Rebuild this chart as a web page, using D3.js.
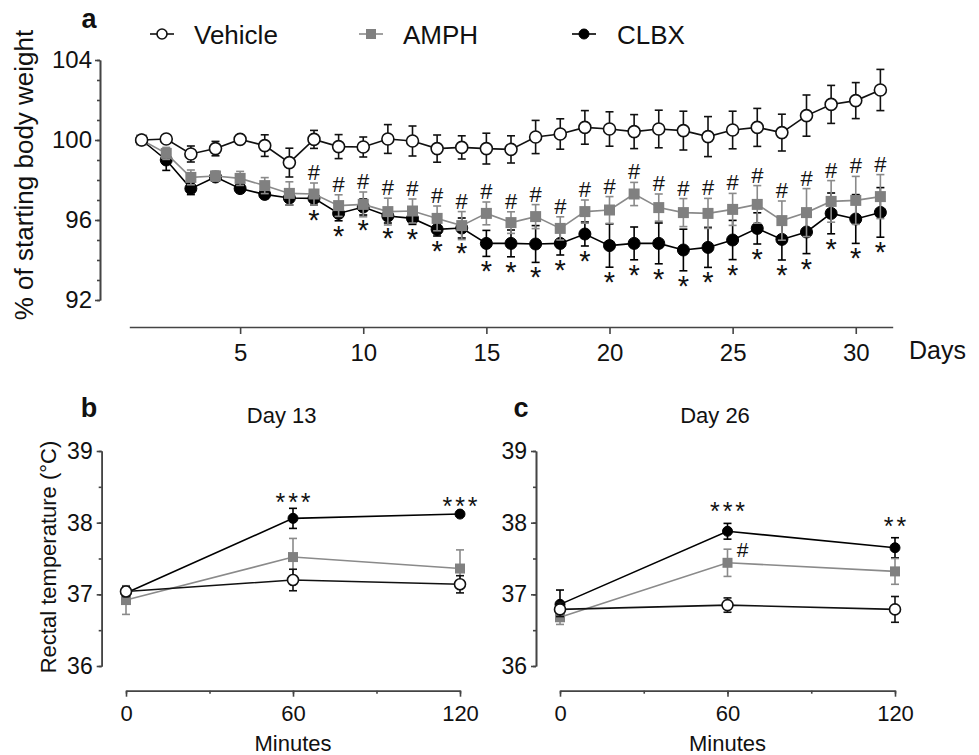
<!DOCTYPE html>
<html><head><meta charset="utf-8">
<script src="https://cdn.jsdelivr.net/npm/d3@7"></script>
<style>
body{margin:0;background:#fff;}
text{font-family:"Liberation Sans",Arial,Helvetica,sans-serif;fill:#111;}
</style></head>
<body><svg id="c" width="979" height="755"></svg>
<script>
// ---------- DATA ----------
const days = [1,2,3,4,5,6,7,8,9,10,11,12,13,14,15,16,17,18,19,20,21,22,23,24,25,26,27,28,29,30,31];
const vehWeight = [100.0,100.05,99.3,99.57,100.03,99.72,98.87,100.03,99.67,99.65,100.05,99.95,99.57,99.63,99.57,99.53,100.15,100.3,100.63,100.55,100.42,100.55,100.47,100.17,100.5,100.63,100.37,101.22,101.78,101.97,102.5];
const vehWeightErr = [0,0.15,0.4,0.36,0.2,0.54,0.72,0.45,0.6,0.5,0.72,0.75,0.68,0.58,0.77,0.68,0.83,0.76,0.84,0.86,0.85,0.94,0.97,1.0,0.94,0.95,0.92,1.03,0.95,0.9,1.03];
const amphWeight = [100.0,99.33,98.13,98.2,98.08,97.72,97.33,97.3,96.72,96.78,96.42,96.45,96.08,95.72,96.33,95.87,96.17,95.58,96.42,96.5,97.3,96.62,96.37,96.33,96.53,96.78,95.97,96.37,96.93,96.98,97.17];
const amphWeightErr = [0,0.3,0.37,0.25,0.35,0.4,0.58,0.55,0.54,0.62,0.67,0.6,0.62,0.7,0.57,0.54,0.6,0.58,0.58,0.67,0.58,0.68,0.7,0.75,0.8,0.94,0.98,1.2,1.04,1.2,1.1];
const clbxWeight = [100.0,99.0,97.57,98.15,97.57,97.28,97.1,97.08,96.33,96.65,96.2,96.08,95.53,95.6,94.83,94.83,94.8,94.83,95.3,94.72,94.83,94.83,94.5,94.63,95.0,95.58,95.03,95.4,96.33,96.05,96.38];
const clbxWeightErr = [0,0.52,0.3,0.2,0.2,0.2,0.35,0.33,0.37,0.4,0.35,0.3,0.33,0.5,0.65,0.67,0.92,0.58,0.6,1.08,0.82,1.02,1.04,1.0,0.98,0.78,1.03,1.08,1.02,1.22,1.24];
const hashDays = [8,9,10,11,12,13,14,15,16,17,18,19,20,21,22,23,24,25,26,27,28,29,30,31];
const starDays = [8,9,10,11,12,13,14,15,16,17,18,19,20,21,22,23,24,25,26,27,28,29,30,31];
const dayTicks = [5,10,15,20,25,30];
const weightTicks = [92,96,100,104];
const weightMinor = [92,93,94,95,96,97,98,99,100,101,102,103,104];

const minutes = [0,60,120];
const minuteTicks = [0,60,120];
const minuteMinor = [0,30,60,90,120];
const tempTicks = [36,37,38,39];
const tempMinor = [36,36.5,37,37.5,38,38.5,39];
// Day 13
const vehTempB = [37.04,37.2,37.14], vehTempBErr = [0.07,0.15,0.12];
const amphTempB = [36.92,37.52,37.36], amphTempBErr = [0.2,0.26,0.26];
const clbxTempB = [37.02,38.06,38.12], clbxTempBErr = [0.08,0.14,0.03];
const starsB = ["", "***", "***"];
// Day 26
const vehTempC = [36.79,36.85,36.79], vehTempCErr = [0.1,0.1,0.18];
const amphTempC = [36.68,37.44,37.32], amphTempCErr = [0.1,0.19,0.18];
const clbxTempC = [36.86,37.88,37.65], clbxTempCErr = [0.2,0.11,0.14];
const starsC = ["", "***", "**"];
const hashC = ["", "#", ""];

const seriesNames = ["Vehicle","AMPH","CLBX"];

// ---------- STYLE ----------
const GRAY = "#808080", GRAYLINE = "#8a8a8a", AX = "#444";
const FONT = "'Liberation Sans',Arial,Helvetica,sans-serif";
const svg = d3.select("#c");

function styleAxis(g, fs){
  g.selectAll(".domain").attr("stroke",AX).attr("stroke-width",1.6);
  g.selectAll(".tick line").attr("stroke",AX).attr("stroke-width",1.6);
  g.selectAll("text").style("font-family",FONT).style("font-size",fs+"px").attr("fill","#111");
}

function marker(g, type, cx, cy, r, color){
  if(type==="circle-open"){
    g.append("circle").attr("cx",cx).attr("cy",cy).attr("r",r).attr("fill","#fff").attr("stroke","#111").attr("stroke-width",1.6);
  } else if(type==="circle"){
    g.append("circle").attr("cx",cx).attr("cy",cy).attr("r",r).attr("fill","#000").attr("stroke","#000").attr("stroke-width",1);
  } else {
    g.append("rect").attr("x",cx-r).attr("y",cy-r).attr("width",2*r).attr("height",2*r).attr("fill",GRAY);
  }
}

function drawSeries(g, x, y, xs, m, e, type, color, r, cap){
  const s = g.append("g");
  xs.forEach((xv,i)=>{
    if(e[i]>0){
      const px=x(xv), y1=y(m[i]+e[i]), y2=y(m[i]-e[i]);
      s.append("line").attr("x1",px).attr("x2",px).attr("y1",y1).attr("y2",y2).attr("stroke",color).attr("stroke-width",1.6);
      s.append("line").attr("x1",px-cap).attr("x2",px+cap).attr("y1",y1).attr("y2",y1).attr("stroke",color).attr("stroke-width",1.6);
      s.append("line").attr("x1",px-cap).attr("x2",px+cap).attr("y1",y2).attr("y2",y2).attr("stroke",color).attr("stroke-width",1.6);
    }
  });
  const line = d3.line().x((d,i)=>x(xs[i])).y(d=>y(d));
  s.append("path").attr("d",line(m)).attr("fill","none").attr("stroke",color).attr("stroke-width",1.6);
  xs.forEach((xv,i)=>marker(s,type,x(xv),y(m[i]),r,color));
}

// ---------- PANEL A ----------
const xA = d3.scaleLinear().domain([0.5,31.5]).range([129.3,892.7]);
const yA = d3.scaleLinear().domain([92,104]).range([300,60]);

const gxA = svg.append("g").attr("transform","translate(0,327)")
  .call(d3.axisBottom(xA).tickValues(dayTicks).tickSize(7).tickPadding(10).tickSizeOuter(0));
styleAxis(gxA,24);
const gyAm = svg.append("g").attr("transform","translate(100,0)")
  .call(d3.axisLeft(yA).tickValues(weightMinor).tickSize(3).tickFormat("").tickSizeOuter(0));
styleAxis(gyAm,24);
const gyA = svg.append("g").attr("transform","translate(100,0)")
  .call(d3.axisLeft(yA).tickValues(weightTicks).tickSize(5).tickPadding(3).tickSizeOuter(0));
styleAxis(gyA,24);

svg.append("text").attr("transform","translate(33,175) rotate(-90)").attr("text-anchor","middle")
  .style("font-size","26px").text("% of starting body weight");
svg.append("text").attr("x",909).attr("y",359).style("font-size","25px").text("Days");
svg.append("text").attr("x",89).attr("y",28).attr("text-anchor","middle").style("font-size","27px").style("font-weight","bold").text("a");

const pA = svg.append("g");
drawSeries(pA,xA,yA,days,clbxWeight,clbxWeightErr,"circle","#000",6,4);
drawSeries(pA,xA,yA,days,amphWeight,amphWeightErr,"square",GRAYLINE,5.5,4);
drawSeries(pA,xA,yA,days,vehWeight,vehWeightErr,"circle-open","#111",6,4);

hashDays.forEach(d=>{
  const i = days.indexOf(d);
  svg.append("text").attr("x",xA(d)).attr("y",yA(amphWeight[i]+amphWeightErr[i])-3)
    .attr("text-anchor","middle").style("font-size","22px").text("#");
});
starDays.forEach(d=>{
  const i = days.indexOf(d);
  svg.append("text").attr("x",xA(d)).attr("y",yA(clbxWeight[i]-clbxWeightErr[i])+25)
    .attr("text-anchor","middle").style("font-size","29px").text("*");
});

// legend
const legend = [
  {name:seriesNames[0], type:"circle-open", x:150, tx:194, color:"#111"},
  {name:seriesNames[1], type:"square", x:359, tx:403, color:GRAYLINE},
  {name:seriesNames[2], type:"circle", x:572, tx:617, color:"#000"}
];
legend.forEach(l=>{
  const g = svg.append("g");
  g.append("line").attr("x1",l.x).attr("x2",l.x+24).attr("y1",34).attr("y2",34).attr("stroke",l.color).attr("stroke-width",1.6);
  marker(g,l.type,l.x+12,34,5,l.color);
  svg.append("text").attr("x",l.tx).attr("y",44).style("font-size","26px").text(l.name);
});

// ---------- PANELS B & C ----------
const yT = d3.scaleLinear().domain([36,39]).range([666,451]);
function tempPanel(axisX, x0, x1, letter, letterX, title, titleX, veh, vehE, amph, amphE, clbx, clbxE, stars, starOff, hashes){
  const x = d3.scaleLinear().domain([0,120]).range([x0,x1]);
  const gx1 = svg.append("g").attr("transform","translate(0,690.7)")
    .call(d3.axisBottom(x).tickValues(minuteMinor).tickSize(3).tickFormat("").tickSizeOuter(0));
  styleAxis(gx1,22);
  const gx = svg.append("g").attr("transform","translate(0,690.7)")
    .call(d3.axisBottom(x).tickValues(minuteTicks).tickSize(6).tickPadding(9).tickSizeOuter(0));
  styleAxis(gx,22);
  const gy1 = svg.append("g").attr("transform",`translate(${axisX},0)`)
    .call(d3.axisLeft(yT).tickValues(tempMinor).tickSize(3).tickFormat("").tickSizeOuter(0));
  styleAxis(gy1,22);
  const gy = svg.append("g").attr("transform",`translate(${axisX},0)`)
    .call(d3.axisLeft(yT).tickValues(tempTicks).tickFormat(d3.format("d")).tickSize(5).tickPadding(4).tickSizeOuter(0));
  styleAxis(gy,23);
  svg.append("text").attr("x",(x0+x1)/2).attr("y",751).attr("text-anchor","middle").style("font-size","22px").text("Minutes");
  svg.append("text").attr("x",titleX).attr("y",423).attr("text-anchor","middle").style("font-size","22px").text(title);
  svg.append("text").attr("x",letterX).attr("y",417).attr("text-anchor","middle").style("font-size","27px").style("font-weight","bold").text(letter);
  const g = svg.append("g");
  drawSeries(g,x,yT,minutes,clbx,clbxE,"circle","#000",5,4);
  drawSeries(g,x,yT,minutes,amph,amphE,"square",GRAYLINE,5,4);
  drawSeries(g,x,yT,minutes,veh,vehE,"circle-open","#111",5.5,4);
  minutes.forEach((t,i)=>{
    if(stars[i]) svg.append("text").attr("x",x(t)+1.5).attr("y",yT(clbx[i]+clbxE[i])+starOff)
      .attr("text-anchor","middle").style("font-size","25px").style("letter-spacing","3px").text(stars[i]);
    if(hashes && hashes[i]) svg.append("text").attr("x",x(t)+15).attr("y",yT(amph[i])-6)
      .attr("text-anchor","middle").style("font-size","21px").text(hashes[i]);
  });
}
tempPanel(101.7,126,460,"b",89,"Day 13",281.7,vehTempB,vehTempBErr,amphTempB,amphTempBErr,clbxTempB,clbxTempBErr,starsB,3,null);
tempPanel(536,560,895,"c",521,"Day 26",715,vehTempC,vehTempCErr,amphTempC,amphTempCErr,clbxTempC,clbxTempCErr,starsC,-3,hashC);

svg.append("text").attr("transform","translate(56,557) rotate(-90)").attr("text-anchor","middle")
  .style("font-size","22px").text("Rectal temperature (°C)");
</script></body></html>
